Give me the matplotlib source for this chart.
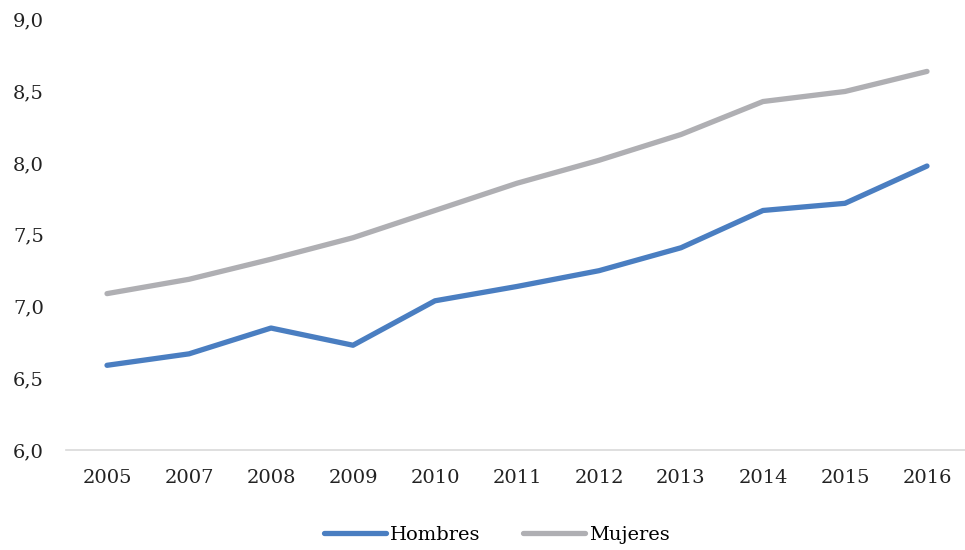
import matplotlib.pyplot as plt
import numpy as np

years = ['2005', '2007', '2008', '2009', '2010', '2011', '2012', '2013', '2014', '2015', '2016']
hombres = [6.59, 6.67, 6.85, 6.73, 7.04, 7.14, 7.25, 7.41, 7.67, 7.72, 7.98]
mujeres = [7.09, 7.19, 7.33, 7.48, 7.67, 7.86, 8.02, 8.20, 8.43, 8.50, 8.64]

plt.rcParams['font.family'] = ['DejaVu Serif']

fig = plt.figure(figsize=(9.65, 5.5), dpi=100)
ax = fig.add_axes([0.0684, 0.182, 0.9347, 0.782])

x = np.arange(len(years))
ax.plot(x, hombres, color='#4a7ec1', lw=3.8, solid_capstyle='round', label='Hombres')
ax.plot(x, mujeres, color='#afafb3', lw=3.8, solid_capstyle='round', label='Mujeres')

ax.set_xlim(-0.5, len(years) - 0.5)
ax.set_ylim(6.0, 9.0)
ax.set_xticks(x)
ax.set_xticklabels(years)
yt = np.arange(6.0, 9.01, 0.5)
ax.set_yticks(yt)
ax.set_yticklabels([f'{v:.1f}'.replace('.', ',') for v in yt])
ax.tick_params(length=0, labelsize=14, colors='#222222')
ax.tick_params(axis='x', pad=14)
ax.tick_params(axis='y', pad=16)

for s in ['top', 'right', 'left']:
    ax.spines[s].set_visible(False)
ax.spines['bottom'].set_color('#d9d9d9')
ax.spines['bottom'].set_linewidth(1.2)

fig.legend(loc='lower center', bbox_to_anchor=(0.515, -0.02), ncol=2, frameon=False,
           fontsize=14, handlelength=3.2, handletextpad=0.2, columnspacing=2.2)

fig.savefig('out.png', dpi=100)
